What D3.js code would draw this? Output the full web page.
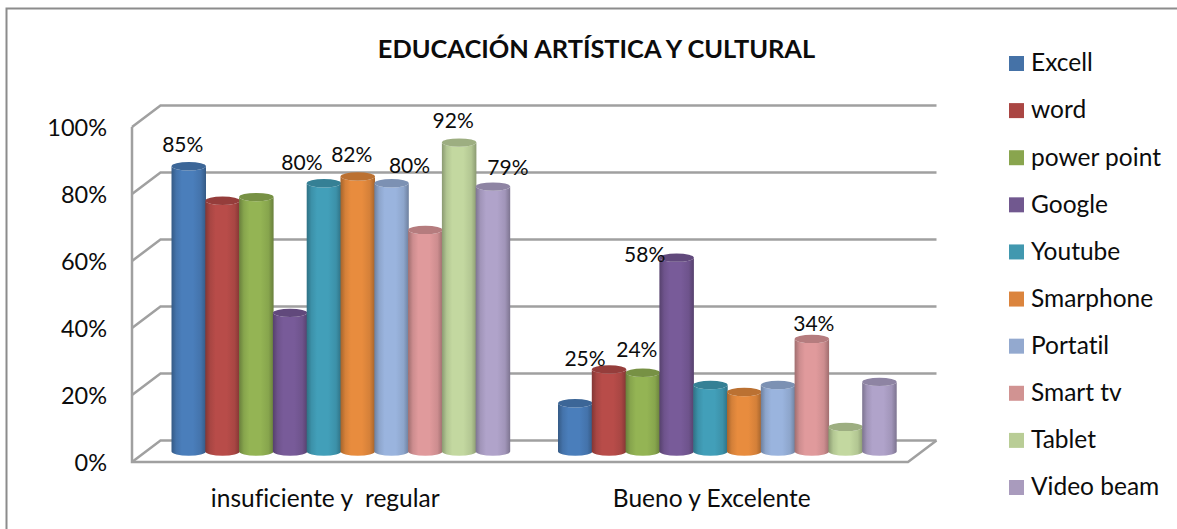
<!DOCTYPE html>
<html lang="es">
<head>
<meta charset="utf-8">
<script src="https://cdn.jsdelivr.net/npm/d3@7/dist/d3.min.js"></script>
<style>
html,body{margin:0;padding:0;background:#fff;overflow:hidden}
svg{display:block}
text{font-family:Lato,"Open Sans",sans-serif;fill:#0c0c0c;font-variant-ligatures:none}
</style>
</head>
<body>
<svg id="c" width="1177" height="529"></svg>
<script>
const title = "EDUCACIÓN ARTÍSTICA Y CULTURAL";
const categories = ["insuficiente y  regular", "Bueno y Excelente"];
const seriesNames = ["Excell","word","power point","Google","Youtube","Smarphone","Portatil","Smart tv","Tablet","Video beam"];
const insuficienteValues = [85,74.8,75.9,41.7,80,82,80,66.2,92,79];
const buenoValues = [15,25,24,58,20.4,18.3,20.4,34,8,21.3];
const insuficienteLabels = ["85%",null,null,null,"80%","82%","80%",null,"92%","79%"];
const buenoLabels = [null,"25%","24%","58%",null,null,null,"34%",null,null];
const barColors = ["#4a7ebb","#b84c49","#94b454","#785b99","#429fb9","#e88c3e","#9ab4de","#e09a9c","#c3d8a0","#b0a3ca"];
const legendColors = ["#4572a7","#aa4643","#89a54e","#71588f","#4198af","#db843d","#93a9cf","#d19392","#b9cd96","#a99bbd"];
const yTicks = [0,20,40,60,80,100];

const svg = d3.select("#c");
const valuesByCat = [insuficienteValues, buenoValues];
const labelsByCat = [insuficienteLabels, buenoLabels];

// Layout
const depthX = 28.5, depthY = -21.5;
const frontLeft = 132, frontRight = 908;
const yFront = d3.scaleLinear().domain([0,100]).range([462,127]);
const yBar = d3.scaleLinear().domain([0,100]).range([454,115.5]);
const barFloor = 0.75;
const xGroup = d3.scaleBand().domain(categories).range([146,919]);
const xBar = d3.scaleBand().domain(seriesNames).range([25.5,363.5]);
const xLabel = d3.scaleBand().domain(categories).range([frontLeft,frontLeft+773]);

// Outer frame (top and left edges only)
svg.append("path").attr("d","M6.5,529V8.5H1177").attr("fill","none").attr("stroke","#8c8c8c").attr("stroke-width",2);

// Walls and grid
const grid = svg.append("g").attr("fill","none").attr("stroke","#a0a0a0").attr("stroke-width",2.5);
yTicks.forEach(t=>{
  const y=yFront(t);
  grid.append("path").attr("d",`M${frontLeft},${y}L${frontLeft+depthX},${y+depthY}H${frontRight+depthX}`);
});
grid.append("path").attr("d",`M${frontLeft},${yFront(100)}V${yFront(0)}H${frontRight}L${frontRight+depthX},${yFront(0)+depthY}`);

// Y axis
const yAxis = d3.axisLeft(yFront).tickValues(yTicks).tickSize(0).tickPadding(25).tickFormat(d=>d+"%");
const ax = svg.append("g").attr("transform",`translate(${frontLeft},0)`).call(yAxis);
ax.select(".domain").remove();
ax.selectAll("text").style("font-size","23.5px").attr("dy","0.36em");

// Cylinders
const defs = svg.append("defs");
barColors.forEach((c,i)=>{
  const g = defs.append("linearGradient").attr("id","g"+i).attr("x1",0).attr("x2",1).attr("y1",0).attr("y2",0);
  const dark=d3.color(c).darker(0.95), soft=d3.color(c).darker(0.25);
  [[0,dark],[0.14,soft],[0.3,c],[0.62,c],[0.85,soft],[1,dark]].forEach(([o,col])=>{
    g.append("stop").attr("offset",o).attr("stop-color",col);
  });
});
const barW = 34.5, ry = 4.2;
categories.forEach((cat,ci)=>{
  seriesNames.forEach((s,i)=>{
    const x = xGroup(cat)+xBar(s), top = yBar(valuesByCat[ci][i]), base = yBar(barFloor), rx = barW/2;
    svg.append("path")
      .attr("d",`M${x},${top}V${base}A${rx},${ry} 0 0 0 ${x+barW},${base}V${top}A${rx},${ry} 0 0 1 ${x},${top}Z`)
      .attr("fill",`url(#g${i})`);
    svg.append("ellipse").attr("cx",x+rx).attr("cy",top).attr("rx",rx).attr("ry",ry)
      .attr("fill",d3.color(barColors[i]).darker(0.6));
  });
});

// Data labels: hand-placed in the original, offsets from the bar's top centre
const labelNudge = [
  {0:[-6,-22],4:[-22,-21],5:[-6,-22],6:[18,-18],8:[-6,-22],9:[15,-19]},
  {1:[-24,-11],2:[-6,-23],3:[2,-15]}
];
labelNudge[1] = {1:[-24,-11],2:[-6,-23],3:[-32,-3],7:[2,-15]};
categories.forEach((cat,ci)=>{
  seriesNames.forEach((s,i)=>{
    const t = labelsByCat[ci][i];
    if(!t) return;
    const [dx,dy] = labelNudge[ci][i];
    svg.append("text").attr("text-anchor","middle").attr("dy","0.36em")
      .attr("x",xGroup(cat)+xBar(s)+barW/2+dx).attr("y",yBar(valuesByCat[ci][i])+dy)
      .style("font-size","21px").text(t);
  });
});

// Category labels
categories.forEach(cat=>{
  svg.append("text").attr("x",xLabel(cat)+xLabel.bandwidth()/2).attr("y",498).attr("dy","0.36em")
    .attr("text-anchor","middle").style("white-space","pre")
    .style("font-size","24.5px").text(cat);
});

// Title
svg.append("text").attr("x",596.5).attr("y",49).attr("dy","0.36em").attr("text-anchor","middle")
  .style("font-size","25.4px").style("font-weight","700").text(title);

// Legend
const yLegend = d3.scalePoint().domain(seriesNames).range([63.5,487.5]);
seriesNames.forEach((s,i)=>{
  svg.append("rect").attr("x",1009).attr("y",yLegend(s)-7.5).attr("width",15).attr("height",15).attr("fill",legendColors[i]);
  svg.append("text").attr("x",1031).attr("y",yLegend(s)-1).attr("dy","0.36em").style("font-size","24.5px").text(s);
});
</script>
</body>
</html>
